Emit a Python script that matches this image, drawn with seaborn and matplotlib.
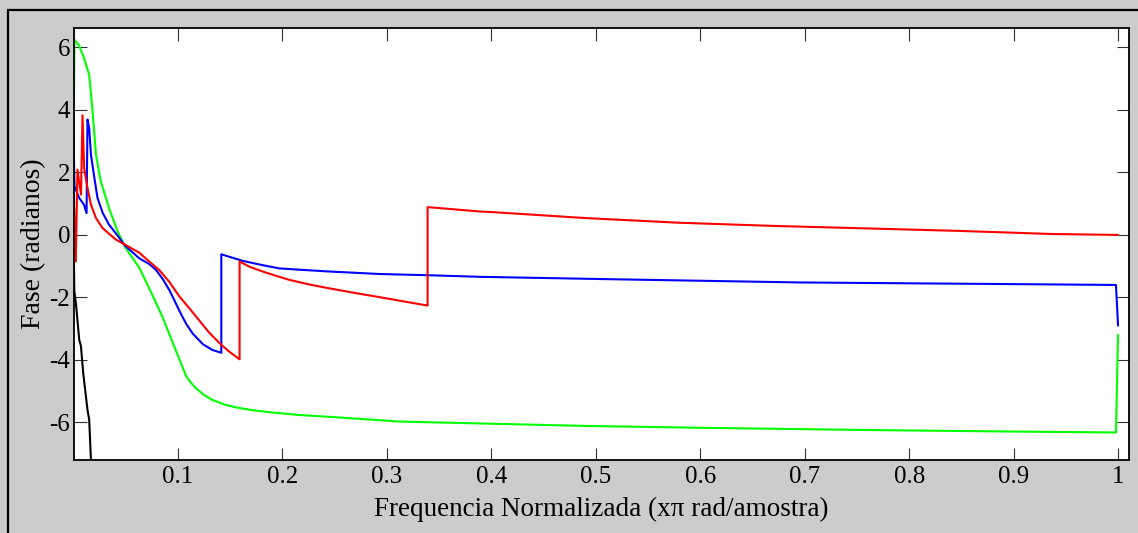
import matplotlib
matplotlib.use("Agg")
import matplotlib.pyplot as plt
from matplotlib.patches import Rectangle
import pandas as pd
import seaborn as sns

# Phase responses (radians) against normalized frequency (x pi rad/sample)
black_x = [0.0, 0.0008, 0.0023, 0.0055, 0.0071, 0.0093, 0.0134, 0.015, 0.0167, 0.018]
black_y = [0.0, -1.8, -2.18, -3.36, -3.55, -4.42, -5.6, -5.9, -7.2, -7.9]

green_x = [0.0, 0.001, 0.0055, 0.010, 0.015, 0.018, 0.0215, 0.026, 0.034, 0.042,
           0.050, 0.063, 0.0725, 0.085, 0.0965, 0.108, 0.113, 0.117, 0.125, 0.133,
           0.145, 0.156, 0.170, 0.187, 0.216, 0.25, 0.312, 0.401, 0.49, 0.602,
           0.758, 0.870, 0.998, 1.0]
green_y = [3.14, 6.24, 6.05, 5.66, 5.13, 4.06, 2.57, 1.73, 0.86, 0.13,
           -0.42, -1.05, -1.71, -2.61, -3.57, -4.53, -4.75, -4.9, -5.12, -5.28,
           -5.43, -5.52, -5.6, -5.67, -5.76, -5.83, -5.97, -6.04, -6.11, -6.17,
           -6.24, -6.28, -6.32, -3.2]

blue_x = [0.0, 0.001, 0.0055, 0.010, 0.0125, 0.0134, 0.015, 0.0167, 0.020, 0.023,
          0.028, 0.034, 0.044, 0.0486, 0.063, 0.0725, 0.079, 0.085, 0.0917, 0.0948,
          0.101, 0.104, 0.108, 0.114, 0.124, 0.133, 0.1415, 0.1415, 0.162, 0.180,
          0.197, 0.220, 0.245, 0.293, 0.341, 0.389, 0.503, 0.695, 0.887, 0.998,
          1.0]
blue_y = [3.14, 1.55, 1.18, 0.97, 0.70, 3.69, 3.42, 2.57, 1.82, 1.18,
          0.70, 0.33, -0.10, -0.32, -0.75, -0.93, -1.12, -1.39, -1.76, -1.97,
          -2.4, -2.6, -2.85, -3.15, -3.5, -3.68, -3.77, -0.62, -0.83, -0.96,
          -1.07, -1.12, -1.17, -1.25, -1.29, -1.34, -1.41, -1.52, -1.57, -1.60,
          -2.9]

red_x = [0.0, 0.0022, 0.0038, 0.0072, 0.0086, 0.0102, 0.0134, 0.0167, 0.0215, 0.0278,
         0.0406, 0.053, 0.063, 0.0725, 0.082, 0.0917, 0.101, 0.111, 0.120, 0.130,
         0.141, 0.149, 0.159, 0.159, 0.168, 0.181, 0.195, 0.207, 0.225, 0.245,
         0.270, 0.293, 0.315, 0.339, 0.339, 0.389, 0.401, 0.49, 0.58, 0.669,
         0.758, 0.847, 0.937, 1.0]
red_y = [1.6, -0.85, 2.09, 1.29, 3.83, 2.14, 1.5, 0.97, 0.54, 0.22,
         -0.15, -0.38, -0.57, -0.85, -1.12, -1.5, -1.95, -2.35, -2.72, -3.13,
         -3.5, -3.73, -3.98, -0.85, -1.01, -1.17, -1.32, -1.44, -1.58, -1.71,
         -1.86, -1.99, -2.12, -2.26, 0.89, 0.75, 0.73, 0.54, 0.39, 0.29,
         0.21, 0.13, 0.03, 0.0]

x_ticks = [0.1, 0.2, 0.3, 0.4, 0.5, 0.6, 0.7, 0.8, 0.9, 1.0]
x_tick_labels = ["0.1", "0.2", "0.3", "0.4", "0.5", "0.6", "0.7", "0.8", "0.9", "1"]
y_ticks = [-6, -4, -2, 0, 2, 4, 6]
y_tick_labels = ["-6", "-4", "-2", "0", "2", "4", "6"]

sns.set_theme(style="ticks")
plt.rcParams["font.family"] = ["Liberation Serif", "DejaVu Serif"]
plt.rcParams["axes.unicode_minus"] = False
plt.rcParams["text.color"] = "black"
plt.rcParams["axes.labelcolor"] = "black"

W, H = 1138, 533
fig = plt.figure(figsize=(W / 100, H / 100), dpi=100, facecolor="#cccccc")
ax = fig.add_axes([73.5 / W, 1 - 460 / H, (1128.5 - 73.5) / W, (460 - 28) / H])
ax.set_facecolor("white")

# outer window frame (left and top edges)
fig.add_artist(Rectangle((8 / W, -0.05), 1.0, (1 - 10 / H) + 0.05,
                         transform=fig.transFigure, fill=False,
                         edgecolor="black", linewidth=1.6, zorder=0))

curves = [
    ("black", black_x, black_y, "#000000"),
    ("green", green_x, green_y, "#00ff00"),
    ("blue", blue_x, blue_y, "#0000ff"),
    ("red", red_x, red_y, "#ff0000"),
]
for name, xs, ys, col in curves:
    df = pd.DataFrame({"freq": xs, "phase": ys})
    sns.lineplot(data=df, x="freq", y="phase", color=col, linewidth=1.5,
                 sort=False, estimator=None, ax=ax)

ax.set_xlim(0, 1.01)
ax.set_ylim(-7.2, 6.62)
ax.set_xticks(x_ticks)
ax.set_xticklabels(x_tick_labels)
ax.set_yticks(y_ticks)
ax.set_yticklabels(y_tick_labels)

ax.tick_params(direction="in", top=True, right=True, length=9, width=0.8,
               color="#333333", labelsize=18, labelcolor="black")
ax.tick_params(axis="x", pad=4)
ax.tick_params(axis="y", pad=2.5)

for side in ["left", "right", "top", "bottom"]:
    ax.spines[side].set_color("black")
    ax.spines[side].set_linewidth(1.3)

ax.set_xlabel("Frequencia Normalizada (x\u03c0 rad/amostra)", fontsize=19.5,
              labelpad=7, color="black")
ax.set_ylabel("Fase (radianos)", fontsize=20, labelpad=2, color="black")

fig.savefig("out.png", dpi=100, facecolor=fig.get_facecolor())
